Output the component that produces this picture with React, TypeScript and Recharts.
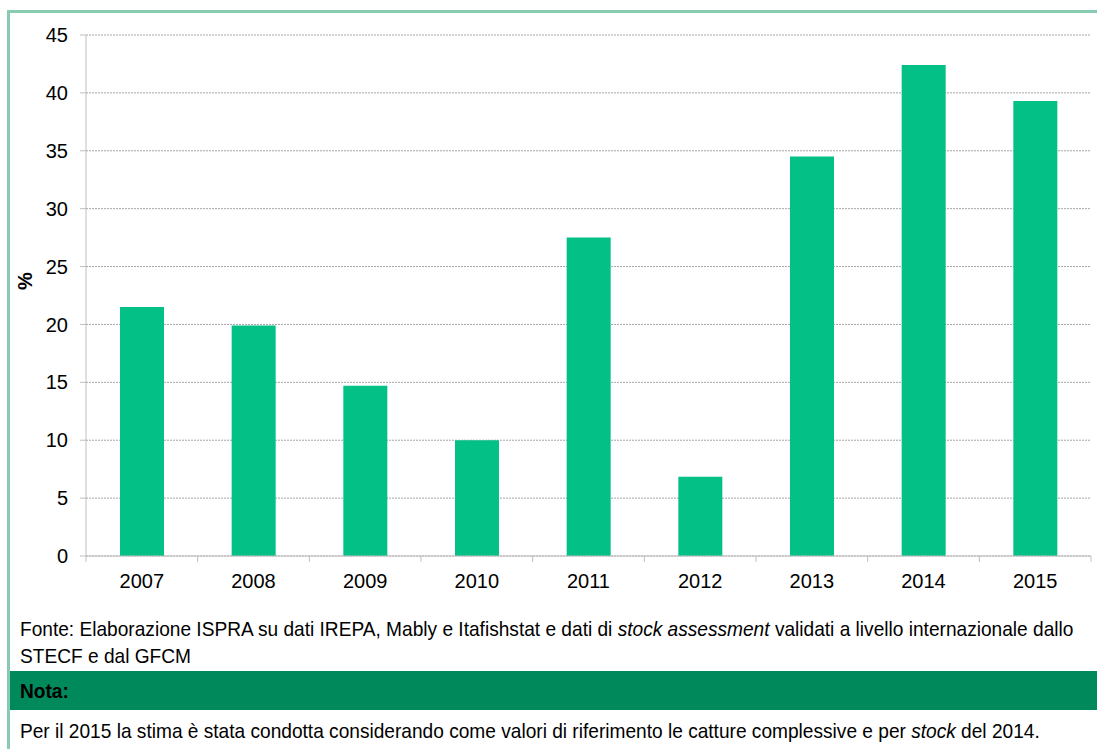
import React from 'react';
import { BarChart, Bar, XAxis, YAxis, CartesianGrid } from 'recharts';

// Years and share (%)
const YEARS = ['2007', '2008', '2009', '2010', '2011', '2012', '2013', '2014', '2015'];
const VALUES = [21.5, 19.9, 14.7, 10.0, 27.5, 6.85, 34.5, 42.4, 39.3];
const Y_TICKS = [0, 5, 10, 15, 20, 25, 30, 35, 40, 45];

const BAR_COLOR = '#02c086';
const AXIS_COLOR = '#bfbfbf';
const BORDER_COLOR = '#88cbb0';
const NOTE_BAND = '#008a5c';
const FONT = '"Liberation Sans", Arial, sans-serif';

const data = YEARS.map((year, i) => ({ year, value: VALUES[i] }));

const CHART_W = 1097;
const CHART_H = 600;
const PLOT_LEFT = 86;
const PLOT_RIGHT = 1091;
const TICK_SIZE = 6;
const TICK_MARGIN = 2;
const BAND = (PLOT_RIGHT - PLOT_LEFT) / YEARS.length;

// no narrow font installed, so squeeze the footer text a bit
const NARROW: React.CSSProperties = {
  fontSize: 21,
  lineHeight: '27px',
  color: '#000',
  whiteSpace: 'nowrap',
  transform: 'scaleX(0.91)',
  transformOrigin: 'left center',
};

function YearTick(props: any) {
  const { x, y, payload, index } = props;
  const axisY = y - TICK_SIZE - TICK_MARGIN;
  const left = x - BAND / 2;
  const right = x + BAND / 2;
  return (
    <g>
      <line x1={left} x2={left} y1={axisY} y2={axisY + TICK_SIZE} stroke={AXIS_COLOR} />
      {index === YEARS.length - 1 && (
        <line x1={right} x2={right} y1={axisY} y2={axisY + TICK_SIZE} stroke={AXIS_COLOR} />
      )}
      <text x={x} y={axisY + 32} textAnchor="middle" fill="#000" fontSize={20} fontFamily={FONT}>
        {payload.value}
      </text>
    </g>
  );
}

export default function App() {
  return (
    <div
      style={{
        position: 'absolute',
        left: 0,
        top: 0,
        width: 1097,
        height: 749,
        overflow: 'hidden',
        background: '#fff',
        fontFamily: FONT,
      }}
    >
      <div
        style={{
          position: 'absolute',
          left: 7,
          top: 10,
          width: 1090,
          height: 739,
          borderLeft: `3px solid ${BORDER_COLOR}`,
          borderTop: `3px solid ${BORDER_COLOR}`,
          boxSizing: 'border-box',
        }}
      />
      <div style={{ position: 'absolute', left: 0, top: 0 }}>
        <BarChart
          width={CHART_W}
          height={CHART_H}
          data={data}
          margin={{ top: 35, right: CHART_W - PLOT_RIGHT, bottom: 10, left: 0 }}
        >
          <CartesianGrid vertical={false} stroke="#a6a6a6" strokeDasharray="2 1" />
          <XAxis
            dataKey="year"
            height={34}
            stroke={AXIS_COLOR}
            tickLine={false}
            tickSize={TICK_SIZE}
            tickMargin={TICK_MARGIN}
            tick={<YearTick />}
            interval={0}
          />
          <YAxis
            width={PLOT_LEFT}
            domain={[0, 45]}
            ticks={Y_TICKS}
            interval={0}
            stroke={AXIS_COLOR}
            tickSize={TICK_SIZE}
            tickMargin={12}
            tick={{ fill: '#000', fontSize: 20, fontFamily: FONT }}
            label={{
              content: () => (
                <text
                  x={32}
                  y={281}
                  transform="rotate(-90, 32, 281)"
                  textAnchor="middle"
                  fontSize={20}
                  fontWeight="bold"
                  fontFamily={FONT}
                  fill="#000"
                >
                  %
                </text>
              ),
            }}
          />
          <Bar dataKey="value" fill={BAR_COLOR} barSize={44} isAnimationActive={false} />
        </BarChart>
      </div>
      <div style={{ position: 'absolute', left: 20, top: 615, ...NARROW }}>
        Fonte: Elaborazione ISPRA su dati IREPA, Mably e Itafishstat e dati di <i>stock assessment</i> validati a
        livello internazionale dallo
        <br />
        STECF e dal GFCM
      </div>
      <div
        style={{
          position: 'absolute',
          left: 10,
          top: 671,
          width: 1087,
          height: 39,
          background: NOTE_BAND,
        }}
      >
        <span style={{ position: 'absolute', left: 10, top: 6, ...NARROW, fontWeight: 'bold' }}>Nota:</span>
      </div>
      <div style={{ position: 'absolute', left: 20, top: 717, ...NARROW }}>
        Per il 2015 la stima è stata condotta considerando come valori di riferimento le catture complessive e per{' '}
        <i>stock</i> del 2014.
      </div>
    </div>
  );
}
